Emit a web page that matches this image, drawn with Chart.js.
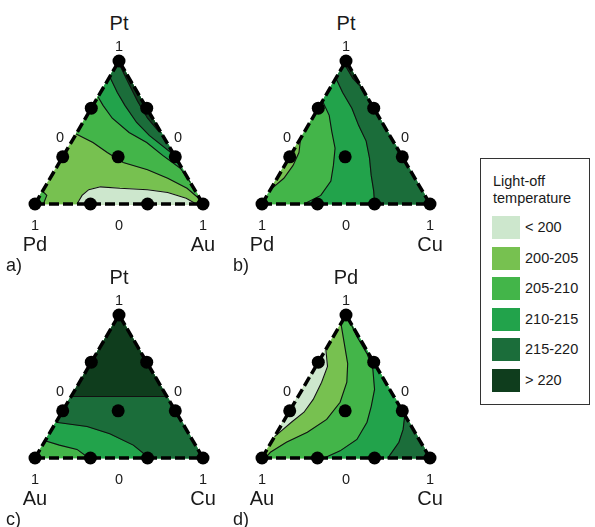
<!DOCTYPE html>
<html>
<head>
<meta charset="utf-8">
<script src="https://cdn.jsdelivr.net/npm/chart.js@4.4.1/dist/chart.umd.min.js"></script>
<style>
  html, body { margin: 0; padding: 0; background: #fff; }
  body { width: 595px; height: 527px; position: relative; overflow: hidden;
         font-family: "Liberation Sans", Arial, Helvetica, sans-serif; color: #1a1a1a; }
  .panel { position: absolute; }
  .lbl { position: absolute; transform: translate(-50%, -50%); white-space: nowrap; line-height: 1; }
  .name { font-size: 20px; }
  .tick { font-size: 14.5px; }
  .letter { font-size: 18px; transform: translate(0, -50%); }
  #legend { position: absolute; left: 480px; top: 158px; width: 110px; height: 247px;
            border: 1px solid #333; box-sizing: border-box; }
  #legend .title { position: absolute; left: 12px; top: 14px; font-size: 14.5px; line-height: 17px; }
  #legend .sw { position: absolute; left: 11px; width: 28px; height: 23px; }
  #legend .it { position: absolute; left: 44px; font-size: 14.5px; line-height: 23px; }
</style>
</head>
<body>
<div id="legend"><div class="title">Light-off<br>temperature</div></div>
<script>
// ---------- data ----------
const levelLabels = ['< 200', '200-205', '205-210', '210-215', '215-220', '> 220'];
const levelColors = ['#cde7cd', '#77c150', '#43b549', '#22a34b', '#1b6d3a', '#0f3d1d'];
const legendTitle = ['Light-off', 'temperature'];

const panelLetters = ['a)', 'b)', 'c)', 'd)'];
// [top, left, right] components of each ternary diagram
const vertexNames = [['Pt', 'Pd', 'Au'], ['Pt', 'Pd', 'Cu'], ['Pt', 'Au', 'Cu'], ['Pd', 'Au', 'Cu']];
const tickOne = '1';
const tickZero = '0';

// compositions [top %, right %] of the measured catalysts
const samplePoints = [[100, 0], [0, 0], [0, 100], [67, 0], [33, 0], [67, 33], [33, 67], [0, 33], [0, 67], [33, 33]];

// corners
const TOP = [100, 0], LEFT = [0, 0], RIGHT = [0, 100];

// ---- panel a : Pt / Pd / Au ----
const aLine205 = [[49, 0], [43, 13], [36, 25], [29, 38], [24, 55], [18, 70], [11, 85], [3, 97]];
const aLine210 = [[75, 0], [69, 6], [60, 16], [50, 31], [43, 45], [34, 59], [25, 74], [15, 85]];
const aLine215 = [[89, 0], [78, 10], [69, 19], [57, 32], [48, 44], [34, 66]];
const aLine220 = [[97, 2], [85, 13], [72, 25], [60, 37], [51, 48], [50, 50]];
const aLine200 = [[0, 25], [6, 25], [10, 27], [12, 33], [11, 45], [10, 62], [8, 75], [4, 88], [0, 96]];
const aCorner = [[9, 0], [6, 4], [0, 5]];

// ---- panel b : Pt / Pd / Cu ----
const bLine205 = [[46, 0], [36, 4], [27, 5], [18, 4], [12, 1], [10, 0]];
const bLine210 = [[72, 0], [62, 9], [51, 16], [39, 24], [27, 29], [16, 33], [6, 32], [0, 25]];
const bLine215 = [[88, 0], [78, 9], [67, 20], [55, 30], [44, 40], [32, 48], [20, 55], [9, 62], [0, 67]];
const bLine220 = [[100, 0], [95, 3], [88, 10], [81, 19]];

// ---- panel c : Pt / Au / Cu ----
const cLine220 = [[43, 0], [43, 57]];
const cLine215 = [[25, 0], [24, 7], [22, 20], [17, 36], [9, 54], [0, 68]];
const cLine210 = [[12, 0], [9, 10], [6, 22], [0, 32]];

// ---- panel d : Pd / Au / Cu ----
const dLine200 = [[76, 0], [64, 7], [53, 9], [41, 10], [32, 9], [25, 5], [19, 2], [15, 0]];
const dLine205 = [[94, 0], [80, 9], [66, 18], [53, 24], [39, 27], [27, 25], [18, 18], [11, 9], [4, 3], [0, 2]];
const dLine210 = [[96, 4], [85, 14], [73, 26], [62, 35], [48, 43], [36, 47], [25, 50], [13, 50], [5, 44], [0, 37]];
const dLine215 = [[30, 70], [20, 74], [11, 76], [1, 75], [0, 75]];

const panels = [
  { base: 1, regions: [
      { level: 2, line: aLine205, close: [TOP] },
      { level: 3, line: aLine210, close: [TOP] },
      { level: 4, line: aLine215, close: [TOP] },
      { level: 5, line: aLine220, close: [TOP] },
      { level: 0, line: aLine200, close: [] },
      { level: 2, line: aCorner, close: [LEFT] } ] },
  { base: 2, regions: [
      { level: 1, line: bLine205, close: [] },
      { level: 3, line: bLine210, close: [RIGHT, TOP] },
      { level: 4, line: bLine215, close: [RIGHT, TOP] },
      { level: 5, line: bLine220, close: [] } ] },
  { base: 2, regions: [
      { level: 3, line: cLine210, close: [RIGHT, TOP] },
      { level: 4, line: cLine215, close: [RIGHT, TOP] },
      { level: 5, line: cLine220, close: [TOP] } ] },
  { base: 1, regions: [
      { level: 2, line: dLine205, close: [RIGHT, TOP] },
      { level: 3, line: dLine210, close: [RIGHT] },
      { level: 4, line: dLine215, close: [RIGHT] },
      { level: 0, line: dLine200, close: [] } ] }
];

// ---------- layout ----------
const TRI_W = 168, TRI_H = 143, PAD = 14;
const panelOrigins = [[35, 61], [262, 61], [35, 315], [262, 315]]; // left corner x, apex y

function toXY(p) { return { x: (p[1] + p[0] / 2) / 100, y: p[0] / 100 }; }

function addLabel(text, cls, x, y) {
  const d = document.createElement('div');
  d.className = 'lbl ' + cls;
  d.textContent = text;
  d.style.left = x + 'px';
  d.style.top = y + 'px';
  document.body.appendChild(d);
}

panels.forEach((panel, i) => {
  const [lx, ty] = panelOrigins[i];
  const by = ty + TRI_H;
  const wrap = document.createElement('div');
  wrap.className = 'panel';
  wrap.style.left = (lx - PAD) + 'px';
  wrap.style.top = (ty - PAD) + 'px';
  const cv = document.createElement('canvas');
  cv.width = TRI_W + 2 * PAD;
  cv.height = TRI_H + 2 * PAD;
  wrap.appendChild(cv);
  document.body.appendChild(wrap);

  const ds = [];
  const poly = (pts, color) => ({
    data: pts.map(toXY), showLine: true, fill: 'shape', tension: 0,
    backgroundColor: color, borderColor: color, borderWidth: 0.8,
    pointRadius: 0, clip: false
  });
  ds.push(poly([TOP, LEFT, RIGHT, TOP], levelColors[panel.base]));
  panel.regions.forEach(r => {
    ds.push(poly([...r.line, ...r.close, r.line[0]], levelColors[r.level]));
  });
  panel.regions.forEach(r => {
    ds.push({ data: r.line.map(toXY), showLine: true, fill: false, tension: 0,
      borderColor: '#111', borderWidth: 1.1, pointRadius: 0, clip: false });
  });
  ds.push({ data: [LEFT, RIGHT, TOP, LEFT].map(toXY), showLine: true, fill: false,
    borderColor: '#000', borderWidth: 3.5, borderDash: [10, 4], pointRadius: 0, clip: false });
  ds.push({ data: samplePoints.map(toXY), showLine: false, pointRadius: 6.5,
    pointBackgroundColor: '#000', pointBorderWidth: 0, clip: false });

  // later datasets must be drawn on top
  ds.forEach((d, k) => { d.order = ds.length - k; });

  new Chart(cv, {
    type: 'scatter',
    data: { datasets: ds },
    options: {
      responsive: false, animation: false, devicePixelRatio: 1,
      layout: { padding: PAD },
      scales: {
        x: { type: 'linear', min: 0, max: 1, display: false },
        y: { type: 'linear', min: 0, max: 1, display: false }
      },
      plugins: { legend: { display: false }, tooltip: { enabled: false } },
      events: []
    }
  });

  const names = vertexNames[i];
  const cx = lx + TRI_W / 2;
  addLabel(names[0], 'name', cx, ty - 38);
  addLabel(tickOne, 'tick', cx, ty - 15);
  addLabel(tickZero, 'tick', lx + 25, ty + 76);
  addLabel(tickZero, 'tick', lx + TRI_W - 25, ty + 76);
  addLabel(tickOne, 'tick', lx, by + 21);
  addLabel(tickZero, 'tick', cx, by + 21);
  addLabel(tickOne, 'tick', lx + TRI_W, by + 21);
  addLabel(names[1], 'name', lx, by + 40);
  addLabel(names[2], 'name', lx + TRI_W, by + 40);
  const let_ = document.createElement('div');
  let_.className = 'lbl letter';
  let_.textContent = panelLetters[i];
  let_.style.left = (lx - 29) + 'px';
  let_.style.top = (by + 61) + 'px';
  document.body.appendChild(let_);
});

// legend
const legend = document.getElementById('legend');
legend.querySelector('.title').innerHTML = legendTitle.join('<br>');
levelLabels.forEach((lab, k) => {
  const top = 57 + k * 30.5;
  const sw = document.createElement('div');
  sw.className = 'sw';
  sw.style.top = top + 'px';
  sw.style.background = levelColors[k];
  legend.appendChild(sw);
  const t = document.createElement('div');
  t.className = 'it';
  t.style.top = top + 'px';
  t.textContent = lab;
  legend.appendChild(t);
});
</script>
</body>
</html>
